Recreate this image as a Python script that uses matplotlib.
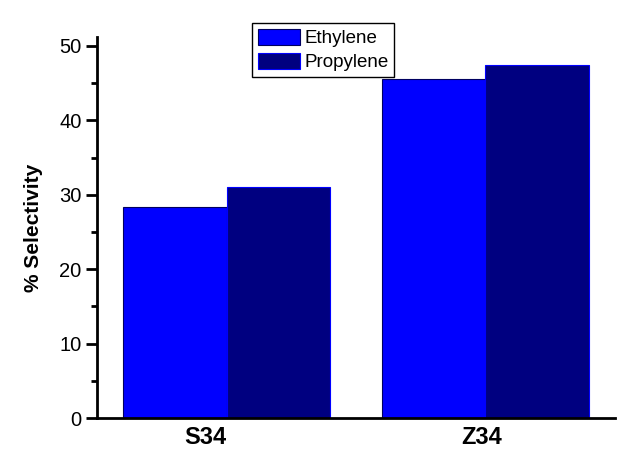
import matplotlib
matplotlib.use("Agg")
import matplotlib.pyplot as plt
import numpy as np
from matplotlib.ticker import MultipleLocator

plt.rcParams['font.family'] = ['Liberation Sans', 'DejaVu Sans']

categories = ["S34", "Z34"]
series_names = ["Ethylene", "Propylene"]
ethylene = [28.4, 45.5]
propylene = [31.0, 47.4]

fig = plt.figure(figsize=(6.39, 4.63), dpi=100)
ax = fig.add_axes([97/639, 1-418/463, (615-97)/639, (418-37)/463])

x = np.arange(len(categories))
w = 0.4
ax.bar(x - w/2, ethylene, width=w, color='#0000FF', edgecolor='#000060', linewidth=0.8, label=series_names[0])
ax.bar(x + w/2, propylene, width=w, color='#000080', edgecolor='#0000FF', linewidth=0.8, label=series_names[1])

ax.set_xlim(-0.5, 1.5)
ax.set_ylim(0, 51.2)
ax.spines['top'].set_visible(False)
ax.spines['right'].set_visible(False)
ax.spines['left'].set_linewidth(2)
ax.spines['bottom'].set_linewidth(2)
ax.yaxis.set_major_locator(MultipleLocator(10))
ax.yaxis.set_minor_locator(MultipleLocator(5))
ax.tick_params(axis='y', which='major', length=8, width=2, labelsize=14.5, direction='out', pad=3)
ax.tick_params(axis='y', which='minor', length=4.5, width=2, direction='out')
ax.set_xticks([-0.08, 0.984])
ax.set_xticklabels(categories, fontsize=17, fontweight='bold')
ax.tick_params(axis='x', length=0, pad=6)
ax.set_ylabel('% Selectivity', fontsize=15, fontweight='bold', labelpad=12)

leg = ax.legend(loc='upper left', bbox_to_anchor=(252/639, 1-23/463), bbox_transform=fig.transFigure,
                fontsize=13.5, frameon=True, fancybox=False, edgecolor='black', framealpha=1,
                handlelength=2.25, handleheight=0.95, handletextpad=0.25, borderpad=0.3, labelspacing=0.3,
                borderaxespad=0)
leg.get_frame().set_linewidth(1)

fig.savefig("out.png", dpi=100)
